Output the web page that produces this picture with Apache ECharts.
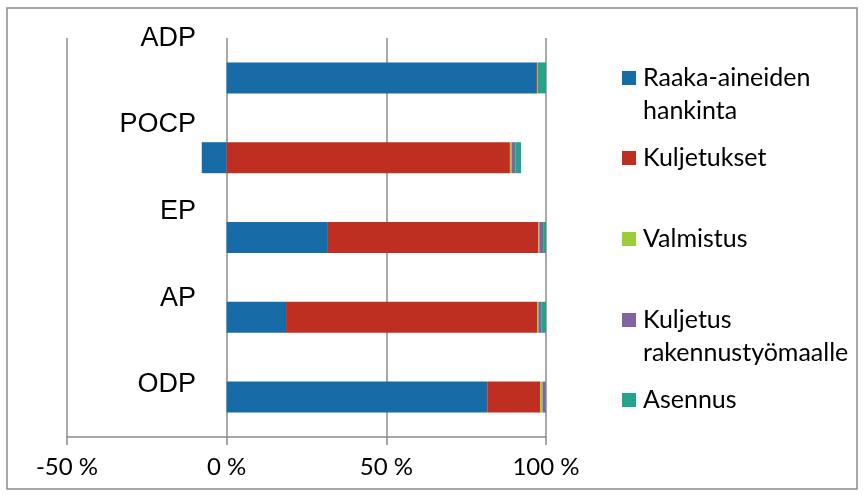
<!DOCTYPE html>
<html>
<head>
<meta charset="utf-8">
<script src="https://cdn.jsdelivr.net/npm/echarts@6/dist/echarts.min.js"></script>
<style>html,body{margin:0;padding:0;background:#fff}#c{width:865px;height:495px}</style>
</head>
<body>
<div id="c"></div>
<script>
const categories = ['ADP', 'POCP', 'EP', 'AP', 'ODP'];
const seriesNames = ['Raaka-aineiden hankinta', 'Kuljetukset', 'Valmistus', 'Kuljetus rakennustyömaalle', 'Asennus'];
const raakaAineet = [96.9, -7.8, 31.7, 18.6, 81.6];
const kuljetukset = [0.3, 88.7, 65.9, 78.6, 16.6];
const valmistus = [0.1, 0.5, 0.3, 0.4, 0.7];
const kuljetusTyomaalle = [0.1, 1.2, 1.2, 0.9, 1.0];
const asennus = [2.6, 1.8, 0.9, 1.5, 0.1];
const xTicks = [-50, 0, 50, 100];

const colors = ['#176ca7', '#be2f21', '#9acd37', '#8064a2', '#25a38b'];
const values = [raakaAineet, kuljetukset, valmistus, kuljetusTyomaalle, asennus];
const legendLabels = {
  'Raaka-aineiden hankinta': ' \nRaaka-aineiden\nhankinta',
  'Kuljetus rakennustyömaalle': ' \nKuljetus\nrakennustyömaalle'
};
const legendTops = [28.5, 141.5, 222.5, 270.5, 383.5];
// spacer heights that lift each category label above its bar
const labelLift = [78.8, 66.8, 51, 38, 25];

const chart = echarts.init(document.getElementById('c'), null, {renderer: 'canvas'});
const legendFont = 'Lato';
const legends = seriesNames.map((n, i) => ({
  data: [n],
  left: 622,
  top: legendTops[i],
  padding: 0,
  itemWidth: 14,
  itemHeight: 14,
  icon: 'rect',
  selectedMode: false,
  formatter: name => legendLabels[name] || name,
  textStyle: {
    fontFamily: legendFont,
    fontSize: 25,
    color: '#000',
    lineHeight: 33,
    padding: [0, 0, 0, 2]
  }
}));

const rich = {n: {fontFamily: 'Liberation Sans', fontSize: 27, color: '#000', lineHeight: 30, align: 'right'}};
labelLift.forEach((h, i) => { rich['s' + i] = {fontSize: 10, lineHeight: h}; });

chart.setOption({
  animation: false,
  color: colors,
  grid: {left: 67, right: 865 - 546, top: 38, bottom: 495 - 437, containLabel: false},
  graphic: [{
    type: 'rect',
    shape: {x: 7, y: 8, width: 850, height: 481},
    style: {fill: 'none', stroke: '#8c8c8c', lineWidth: 1.5},
    silent: true
  }],
  legend: legends,
  xAxis: {
    type: 'value',
    min: xTicks[0],
    max: xTicks[xTicks.length - 1],
    interval: 50,
    axisLine: {show: true, lineStyle: {color: '#8c8c8c', width: 1.5}},
    axisTick: {show: true, length: 8, lineStyle: {color: '#8c8c8c', width: 1.5}},
    splitLine: {show: true, lineStyle: {color: '#8c8c8c', width: 1.5}},
    axisLabel: {
      formatter: v => v + ' %',
      fontFamily: legendFont,
      fontSize: 24,
      color: '#000',
      margin: 18
    }
  },
  yAxis: {
    type: 'category',
    inverse: true,
    data: categories,
    axisLine: {show: false},
    axisTick: {show: false},
    splitLine: {show: false},
    axisLabel: {
      interval: 0,
      showMinLabel: true,
      showMaxLabel: true,
      hideOverlap: false,
      align: 'right',
      margin: -129,
      formatter: (v, i) => '{n|' + v + '}\n{s' + i + '| }',
      rich: rich
    }
  },
  series: seriesNames.map((n, i) => ({
    name: n,
    type: 'bar',
    stack: 'total',
    barWidth: 31,
    data: values[i],
    itemStyle: {color: colors[i]}
  }))
});
</script>
</body>
</html>
